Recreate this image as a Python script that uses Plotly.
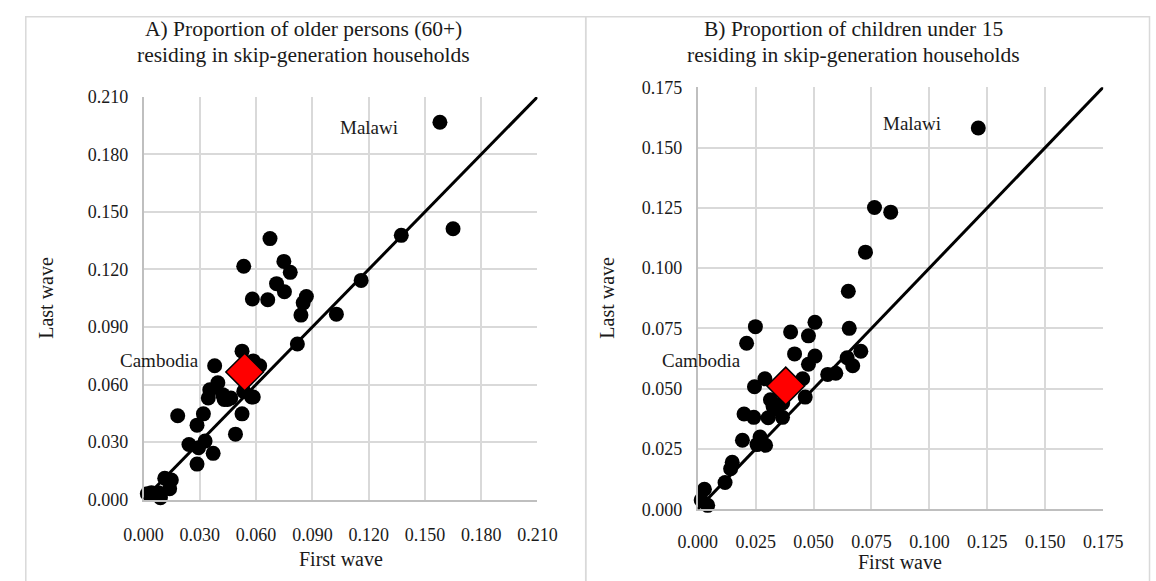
import plotly.graph_objects as go

# ---------------- Data ----------------
# Panel A: older persons (60+) in skip-generation households
a_first = [0.0674, 0.0534, 0.0748, 0.0782, 0.0709, 0.0751, 0.0580, 0.0662, 0.0868, 0.0851,
           0.0839, 0.1028, 0.1160, 0.0820, 0.0525, 0.0379, 0.0585, 0.0619, 0.0396, 0.0353,
           0.0345, 0.0422, 0.0448, 0.0465, 0.0534, 0.0585, 0.0525, 0.0490, 0.0182, 0.0319,
           0.0285, 0.0242, 0.0293, 0.0328, 0.0371, 0.0285, 0.0113, 0.0148, 0.0139, 0.0042,
           0.0079, 0.0090, 0.1374, 0.1650, 0.1580, 0.0576, 0.0430, 0.0020]
a_last = [0.1361, 0.1217, 0.1242, 0.1185, 0.1126, 0.1084, 0.1046, 0.1042, 0.1059, 0.1026,
          0.0962, 0.0967, 0.1143, 0.0811, 0.0774, 0.0698, 0.0723, 0.0698, 0.0609, 0.0572,
          0.0530, 0.0547, 0.0522, 0.0530, 0.0564, 0.0535, 0.0447, 0.0341, 0.0437, 0.0447,
          0.0388, 0.0287, 0.0270, 0.0305, 0.0241, 0.0185, 0.0111, 0.0102, 0.0056, 0.0035,
          0.0035, 0.0010, 0.1378, 0.1412, 0.1968, 0.0535, 0.0522, 0.0030]
a_cambodia = (0.0539, 0.0665)
a_malawi_label = (0.1204, 0.1939)
a_cambodia_label = (0.0087, 0.0725)
a_ticks = [0.000, 0.030, 0.060, 0.090, 0.120, 0.150, 0.180, 0.210]
a_line_end = 0.210

# Panel B: children under 15 in skip-generation households
b_first = [0.1211, 0.0763, 0.0833, 0.0724, 0.0650, 0.0654, 0.0249, 0.0211, 0.0401, 0.0506,
           0.0478, 0.0418, 0.0506, 0.0478, 0.0704, 0.0645, 0.0669, 0.0561, 0.0596, 0.0453,
           0.0290, 0.0245, 0.0464, 0.0314, 0.0325, 0.0330, 0.0200, 0.0242, 0.0304, 0.0366,
           0.0193, 0.0269, 0.0256, 0.0293, 0.0149, 0.0142, 0.0118, 0.0029, 0.0015, 0.0043,
           0.0367]
b_last = [0.1581, 0.1251, 0.1232, 0.1066, 0.0904, 0.0750, 0.0757, 0.0688, 0.0735, 0.0775,
          0.0719, 0.0644, 0.0635, 0.0601, 0.0655, 0.0628, 0.0595, 0.0559, 0.0564, 0.0541,
          0.0541, 0.0508, 0.0465, 0.0454, 0.0428, 0.0415, 0.0395, 0.0381, 0.0379, 0.0381,
          0.0286, 0.0299, 0.0268, 0.0265, 0.0195, 0.0168, 0.0111, 0.0083, 0.0038, 0.0016,
          0.0441]
b_cambodia = (0.0380, 0.0511)
b_malawi_label = (0.0925, 0.1600)
b_cambodia_label = (0.0017, 0.0616)
b_ticks = [0.000, 0.025, 0.050, 0.075, 0.100, 0.125, 0.150, 0.175]
b_line_end = 0.183

titles_a = ["A) Proportion of older persons (60+)", "residing in skip-generation households"]
titles_b = ["B) Proportion of children under 15", "residing in skip-generation households"]

# ---------------- Figure ----------------
W, H = 1156, 581
FONT = "Liberation Serif"
TXT = "#1a1a1a"

def px(x):
    return x / W

def py(y):
    return 1 - y / H

fig = go.Figure()

def add_panel(xs, ys, camb, ticks, line_end, xa, ya):
    lo = ticks[0]
    # 45-degree reference line (drawn as an axis-referenced shape so it may run past the plot edge)
    fig.add_shape(type="line", xref=xa, yref=ya, x0=lo, y0=lo, x1=line_end, y1=line_end,
                  line=dict(color="black", width=3), layer="above")
    fig.add_trace(go.Scatter(x=xs, y=ys, mode="markers",
                             marker=dict(color="black", size=15, line=dict(width=0)),
                             xaxis=xa, yaxis=ya, cliponaxis=False, showlegend=False))
    fig.add_trace(go.Scatter(x=[camb[0]], y=[camb[1]], mode="markers",
                             marker=dict(symbol="diamond", color="#ff0000", size=29,
                                         line=dict(color="black", width=1.5)),
                             xaxis=xa, yaxis=ya, cliponaxis=False, showlegend=False))

add_panel(a_first, a_last, a_cambodia, a_ticks, a_line_end, "x", "y")
add_panel(b_first, b_last, b_cambodia, b_ticks, b_line_end, "x2", "y2")

def axis(ticks, domain, anchor, standoff):
    return dict(domain=domain, anchor=anchor, range=[ticks[0], ticks[-1]],
                tickvals=ticks, ticktext=[f"{t:.3f}" for t in ticks],
                showgrid=True, gridcolor="#d9d9d9", gridwidth=1.5,
                zeroline=False, showline=True, linecolor="#bfbfbf", linewidth=1.5,
                ticks="", ticklabelstandoff=standoff,
                tickfont=dict(family=FONT, size=18, color=TXT), fixedrange=True)

fig.update_layout(
    width=W, height=H, margin=dict(l=0, r=0, t=0, b=0),
    paper_bgcolor="white", plot_bgcolor="white", showlegend=False,
    xaxis=axis(a_ticks, [px(128), px(536)], "y", 18),
    yaxis=axis(a_ticks, [py(507), py(90)], "x", 10),
    xaxis2=axis(b_ticks, [px(702), px(1122)], "y2", 15),
    yaxis2=axis(b_ticks, [py(517), py(80)], "x2", 10),
)

ann = []
def text(s, x, y, size, xref="paper", yref="paper", rot=0):
    ann.append(dict(text=s, x=x, y=y, xref=xref, yref=yref, showarrow=False,
                    xanchor="center", yanchor="middle", textangle=rot,
                    font=dict(family=FONT, size=size, color=TXT)))

# titles
text(titles_a[0], px(294), py(20), 21.5)
text(titles_a[1], px(294), py(47), 21.5)
text(titles_b[0], px(863), py(20), 21.5)
text(titles_b[1], px(863), py(47), 21.5)
# axis titles
text("Last wave", px(27), py(298), 20, rot=-90)
text("Last wave", px(608), py(298), 20, rot=-90)
text("First wave", px(332), py(569), 20)
text("First wave", px(912), py(572), 20)
# point labels
text("Malawi", a_malawi_label[0], a_malawi_label[1], 19, "x", "y")
text("Cambodia", a_cambodia_label[0], a_cambodia_label[1], 19, "x", "y")
text("Malawi", b_malawi_label[0], b_malawi_label[1], 19, "x2", "y2")
text("Cambodia", b_cambodia_label[0], b_cambodia_label[1], 19, "x2", "y2")
fig.update_layout(annotations=ann)

# panel borders
fig.add_shape(type="rect", xref="paper", yref="paper", x0=px(6), x1=px(586), y0=py(600), y1=py(7),
              line=dict(color="#d9d9d9", width=1.5), fillcolor="rgba(0,0,0,0)", layer="below")
fig.add_shape(type="rect", xref="paper", yref="paper", x0=px(586), x1=px(1170), y0=py(600), y1=py(7),
              line=dict(color="#d9d9d9", width=1.5), fillcolor="rgba(0,0,0,0)", layer="below")

fig.write_html("out.html", config={"displayModeBar": False},
               post_script="document.body.style.margin='0';document.body.style.overflow='hidden';")
